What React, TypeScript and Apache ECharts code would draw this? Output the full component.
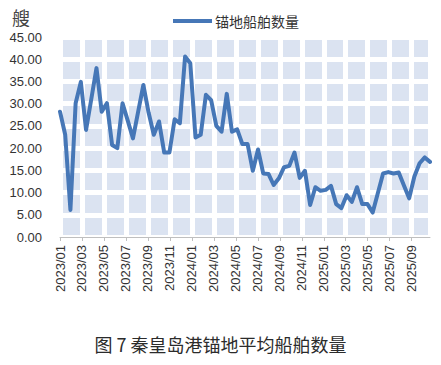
import React, { useEffect, useRef } from "react";
import * as echarts from "echarts";

// Series: anchorage average ship count (one value per period)
const START_YEAR = 2023;
const MONTHS_PER_PERIOD = 0.4742; // each observation period, in months
const seriesName = "锚地船舶数量";
const values = [
  28.2, 23.0, 6.1, 30.1, 34.9, 24.1, 31.0, 38.0, 28.2, 30.1, 20.7, 20.0,
  30.1, 26.2, 22.2, 28.2, 34.2, 28.0, 23.0, 26.0, 19.0, 19.0, 26.5, 25.6,
  40.6, 39.1, 22.4, 23.0, 32.0, 30.8, 25.0, 23.7, 32.2, 23.7, 24.2, 20.9,
  20.9, 14.9, 19.7, 14.3, 14.2, 11.7, 13.2, 15.7, 16.0, 19.0, 13.3, 14.9,
  7.2, 11.2, 10.4, 10.6, 11.5, 7.4, 6.5, 9.4, 7.9, 11.2, 7.4, 7.4,
  5.5, 9.9, 14.3, 14.6, 14.3, 14.5, 11.6, 8.7, 13.6, 16.6, 17.9, 16.9,
];
const Y_MIN = 0;
const Y_MAX = 45;
const Y_STEP = 5;
const X_LABEL_STEP_MONTHS = 2;
const unitLabel = "艘";
const captionText = "图 7 秦皇岛港锚地平均船舶数量";

const LINE_COLOR = "#4677B7";
const TILE_COLOR = "#DBE3F1";
const TEXT_COLOR = "#333333";

export default function App() {
  const ref = useRef<HTMLDivElement>(null);

  useEffect(() => {
    if (!ref.current) return;
    const chart = echarts.init(ref.current, null, { renderer: "svg" });
    const data = values.map((v, i) => [i * MONTHS_PER_PERIOD, v]);
    const xMax = (values.length - 1) * MONTHS_PER_PERIOD;

    const fmtMonth = (v: number) => {
      const m = Math.round(v);
      if (Math.abs(v - m) > 1e-6 || m % X_LABEL_STEP_MONTHS !== 0) return "";
      const y = START_YEAR + Math.floor(m / 12);
      const mm = (m % 12) + 1;
      return `${y}/${mm < 10 ? "0" + mm : mm}`;
    };

    chart.setOption({
      animation: false,
      backgroundColor: "#ffffff",
      title: {
        text: captionText,
        left: "center",
        top: 330,
        textStyle: {
          fontFamily: '"Noto Sans CJK SC"',
          fontSize: 18,
          fontWeight: "normal",
          color: "#2b2b2b",
        },
      },
      legend: {
        data: [seriesName],
        left: 173,
        top: 14,
        padding: 0,
        icon: "rect",
        itemWidth: 39,
        itemHeight: 4,
        textStyle: {
          fontFamily: '"Noto Sans CJK SC"',
          fontSize: 14,
          color: TEXT_COLOR,
          padding: [0, 0, 0, -2],
        },
      },
      grid: {
        left: 60,
        right: 11,
        top: 37,
        bottom: 128,
        show: true,
        backgroundColor: TILE_COLOR,
        borderWidth: 0,
        outerBoundsMode: "none",
      },
      xAxis: {
        type: "value",
        min: 0,
        max: xMax,
        interval: X_LABEL_STEP_MONTHS,
        axisLine: { show: true, lineStyle: { color: "#BFBFBF", width: 1 } },
        axisTick: { show: true, length: 4, lineStyle: { color: "#BFBFBF" } },
        axisLabel: {
          rotate: 90,
          margin: 8,
          fontSize: 13,
          color: TEXT_COLOR,
          fontFamily: '"Liberation Sans", Arial, sans-serif',
          formatter: fmtMonth,
          showMaxLabel: false,
        },
        splitLine: { show: true, lineStyle: { color: "#ffffff", width: 5 } },
      },
      yAxis: {
        type: "value",
        min: Y_MIN,
        max: Y_MAX,
        interval: Y_STEP,
        axisLine: { show: false },
        axisTick: { show: false },
        axisLabel: {
          margin: 18,
          fontSize: 13,
          color: TEXT_COLOR,
          fontFamily: '"Liberation Sans", Arial, sans-serif',
          formatter: (v: number) => v.toFixed(2),
        },
        splitLine: { show: true, lineStyle: { color: "#ffffff", width: 5 } },
      },
      series: [
        {
          name: seriesName,
          type: "line",
          data,
          symbol: "none",
          showSymbol: false,
          lineStyle: { color: LINE_COLOR, width: 4, join: "round", cap: "round" },
          itemStyle: { color: LINE_COLOR },
        },
      ],
      graphic: [
        {
          type: "text",
          left: 12,
          top: 8,
          style: {
            text: unitLabel,
            fontSize: 18,
            fontFamily: '"Noto Sans CJK SC"',
            fill: "#444444",
          },
        },
      ],
    });

    return () => chart.dispose();
  }, []);

  return (
    <div
      ref={ref}
      style={{ position: "fixed", left: 0, top: 0, width: 441, height: 365, background: "#fff" }}
    />
  );
}
